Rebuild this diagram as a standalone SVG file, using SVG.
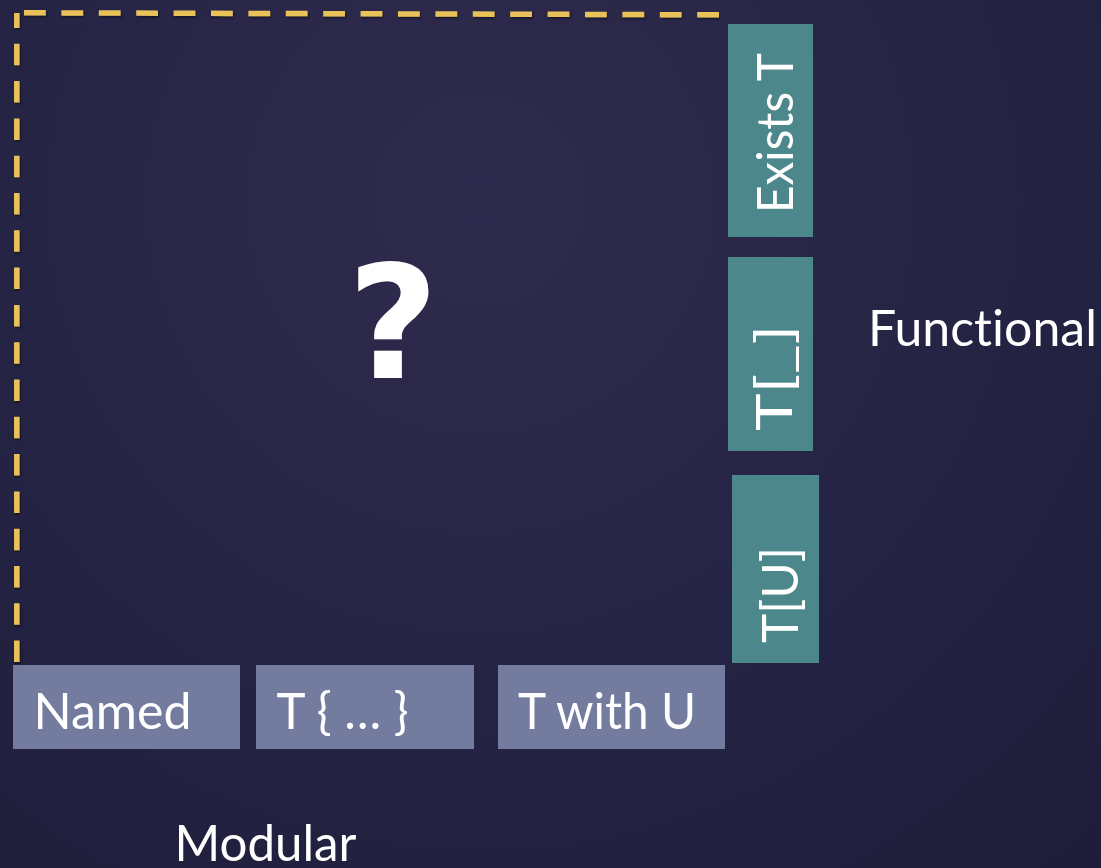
<svg xmlns="http://www.w3.org/2000/svg" width="1101" height="868" viewBox="0 0 1101 868">
<defs>
<radialGradient id="bg" gradientUnits="userSpaceOnUse" cx="480" cy="200" r="950">
<stop offset="0" stop-color="#2f2b4e"/>
<stop offset="0.5" stop-color="#262445"/>
<stop offset="1" stop-color="#1e1c38"/>
</radialGradient>
<filter id="sh" x="-5%" y="-5%" width="110%" height="110%">
<feDropShadow dx="1" dy="1.5" stdDeviation="1" flood-color="#000" flood-opacity="0.5"/>
</filter>
</defs>
<style>
.dash{fill:none;stroke:#e9c25a;stroke-width:5.5;}
.teal{fill:#4b878b;}
.slate{fill:#737b9e;}
.lbl{font-family:Lato,"Liberation Sans",Arial,sans-serif;font-size:50px;fill:#ffffff;font-variant-ligatures:none;}
.q{font-family:"DejaVu Sans",sans-serif;font-weight:bold;font-size:157px;fill:#ffffff;}
</style>
<rect x="0" y="0" width="1101" height="868" fill="url(#bg)"/>
<g id="connectors" filter="url(#sh)">
<path class="dash" d="M16.8,13 L16.8,662" stroke-dasharray="21.5 15.8" stroke-dashoffset="6.5"/>
<path class="dash" d="M24,12.8 L719,14.8" stroke-dasharray="21.8 15.6"/>
</g>
<g id="question">
<text class="q" x="393" y="378" text-anchor="middle">?</text>
</g>
<g id="exists-t">
<rect class="teal" x="728" y="24" width="85" height="213"/>
<text class="lbl" transform="translate(792.5,213) rotate(-90)" textLength="160" lengthAdjust="spacingAndGlyphs">Exists T</text>
</g>
<g id="t-hole">
<rect class="teal" x="728" y="257" width="85" height="194"/>
<text class="lbl" transform="translate(792,431) rotate(-90)" textLength="106" lengthAdjust="spacingAndGlyphs">T[_]</text>
</g>
<g id="t-u">
<rect class="teal" x="732" y="475" width="87" height="188"/>
<text class="lbl" transform="translate(798,643) rotate(-90)" textLength="96" lengthAdjust="spacingAndGlyphs">T[U]</text>
</g>
<g id="functional">
<text class="lbl" x="868" y="346" textLength="229" lengthAdjust="spacingAndGlyphs">Functional</text>
</g>
<g id="named">
<rect class="slate" x="13" y="665" width="227" height="84"/>
<text class="lbl" x="33.5" y="729" textLength="158" lengthAdjust="spacingAndGlyphs">Named</text>
</g>
<g id="t-braces">
<rect class="slate" x="256" y="665" width="218" height="84"/>
<text class="lbl" x="276.5" y="729" textLength="132" lengthAdjust="spacingAndGlyphs">T { … }</text>
</g>
<g id="t-with-u">
<rect class="slate" x="498" y="665" width="227" height="84"/>
<text class="lbl" x="518" y="729" textLength="178" lengthAdjust="spacingAndGlyphs">T with U</text>
</g>
<g id="modular">
<text class="lbl" x="174.5" y="861" textLength="182" lengthAdjust="spacingAndGlyphs">Modular</text>
</g>
</svg>
